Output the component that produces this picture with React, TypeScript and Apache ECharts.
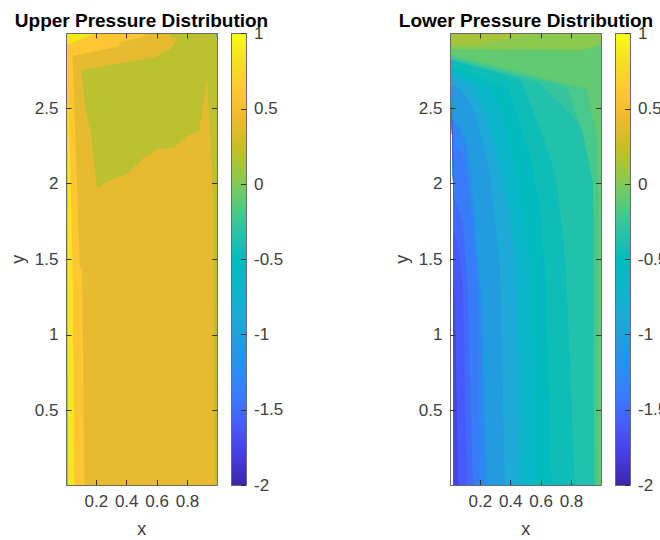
import React, { useEffect, useRef } from "react";
import * as echarts from "echarts";

type Pt = number[];

const xTicks = [0.2, 0.4, 0.6, 0.8];
const yTicks = [0.5, 1, 1.5, 2, 2.5];
const barTicks = [-2, -1.5, -1, -0.5, 0, 0.5, 1];
const xRange = [0.004, 0.994];
const yRange = [0.007, 2.993];

const parulaStops = [
  [62, 38, 168], [70, 60, 222], [71, 88, 251], [60, 120, 250], [44, 140, 240], [35, 155, 225],
  [30, 170, 215], [10, 183, 200], [0, 188, 190], [45, 195, 165], [90, 203, 120], [150, 200, 70],
  [200, 190, 40], [240, 185, 50], [255, 200, 50], [245, 225, 30], [249, 251, 20],
];

// Upper surface bands, painted in order
const upperBase: Pt[] = [[0.004, 0.007], [0.994, 0.007], [0.994, 2.993], [0.004, 2.993]];
const upperGreen: Pt[] = [[0.099, 2.752], [0.597, 2.84], [0.651, 2.878], [0.684, 2.884], [0.737, 2.96], [0.695, 2.964], [0.684, 2.993], [0.994, 2.993], [0.994, 0.007], [0.98, 0.007], [0.97, 1.892], [0.93, 2.686], [0.875, 2.349], [0.794, 2.311], [0.711, 2.238], [0.601, 2.228], [0.509, 2.168], [0.399, 2.062], [0.296, 2.024], [0.206, 1.974], [0.1625, 2.335], [0.13, 2.487]];
const upperOrange: Pt[] = [[0.004, 0.007], [0.122, 0.007], [0.107, 1.429], [0.092, 1.449], [0.044, 2.845], [0.342, 2.906], [0.366, 2.939], [0.487, 2.964], [0.539, 2.993], [0.004, 2.993]];
const upperYellowStrip: Pt[] = [[0.013, 0.007], [0.056, 0.007], [0.044, 1.449], [0.017, 2.63], [0.013, 2.2]];
const upperYellowTop: Pt[] = [[0.004, 2.917], [0.191, 2.988], [0.191, 2.993], [0.004, 2.993]];
const upperEdge: Pt[] = [[0.004, 0.007], [0.011, 0.007], [0.008, 2.2], [0.004, 2.5]];
const upperCorner: Pt[] = [[0.985, 2.993], [0.994, 2.993], [0.994, 2.96]];
const upperBands = [upperBase, upperGreen, upperOrange, upperYellowStrip, upperYellowTop, upperEdge, upperCorner];
const upperLevels = [0.4, 0.2, 0.6, 0.85, 0.85, -0.3, -0.2];

// Lower surface bands, painted in order
const lowerLeftEdge: Pt[] = [[0.023, 0.007], [0.023, 1.892], [0.013, 2.355], [0.004, 2.587]];
const lowerBase: Pt[] = [[0.994, 0.007], [0.994, 2.993], [0.004, 2.993], ...[...lowerLeftEdge].reverse()];
const lowerTop2: Pt[] = [[0.004, 2.891], [0.866, 2.884], [0.994, 2.922], [0.994, 2.993], [0.004, 2.993]];
const lowerTop1: Pt[] = [[0.004, 2.917], [0.151, 2.917], [0.349, 2.95], [0.546, 2.993], [0.004, 2.993]];
const contour1: Pt[] = [[0.004, 2.851], [0.899, 2.626], [0.93, 2.474], [0.969, 2.302], [0.976, 1.958], [0.976, 0.007]];
const contour2: Pt[] = [[0.004, 2.831], [0.768, 2.642], [0.855, 2.388], [0.888, 2.269], [0.941, 2.005], [0.949, 0.007]];
const contour2b: Pt[] = [[0.004, 2.825], [0.592, 2.666], [0.723, 2.534], [0.855, 2.388], [0.888, 2.269], [0.941, 2.005], [0.949, 0.007]];
const contour3: Pt[] = [[0.004, 2.818], [0.4605, 2.686], [0.592, 2.375], [0.658, 2.177], [0.711, 1.958], [0.763, 1.449], [0.822, 0.007]];
const contour4: Pt[] = [[0.004, 2.778], [0.3816, 2.633], [0.447, 2.441], [0.526, 2.177], [0.592, 1.846], [0.625, 1.449], [0.669, 0.007]];
const contour5: Pt[] = [[0.004, 2.745], [0.263, 2.64], [0.349, 2.441], [0.4276, 2.11], [0.48, 1.78], [0.533, 1.449], [0.564, 0.007]];
const contour6: Pt[] = [[0.0066, 2.712], [0.1316, 2.666], [0.2414, 2.441], [0.329, 2.11], [0.395, 1.78], [0.439, 1.449], [0.4605, 0.007]];
const contour7: Pt[] = [[0.0066, 2.653], [0.0724, 2.633], [0.1645, 2.468], [0.217, 2.269], [0.263, 2.058], [0.296, 1.76], [0.329, 1.449], [0.362, 0.007]];
const contour8: Pt[] = [[0.013, 2.4], [0.0526, 2.401], [0.105, 2.269], [0.138, 2.058], [0.171, 1.648], [0.204, 1.297], [0.2414, 0.007], [0.023, 0.007], [0.023, 1.892], [0.013, 2.355]];
const contour9: Pt[] = [[0.018, 2.2], [0.0526, 2.256], [0.0987, 2.137], [0.118, 2.024], [0.151, 1.648], [0.184, 1.297], [0.197, 0.007], [0.023, 0.007], [0.023, 1.892]];
const contour10: Pt[] = [[0.023, 1.905], [0.033, 1.905], [0.0855, 1.74], [0.118, 1.297], [0.151, 0.007], [0.023, 0.007]];
const contour11: Pt[] = [[0.023, 1.674], [0.033, 1.674], [0.066, 1.515], [0.0855, 1.297], [0.114, 0.007], [0.023, 0.007]];
const contour12: Pt[] = [[0.023, 1.363], [0.033, 1.231], [0.0546, 0.007], [0.023, 0.007]];
const lowerWedge: Pt[] = [[0.004, 2.587], [0.013, 2.355], [0.023, 1.892], [0.028, 1.892], [0.02, 2.4]];
const lowerBands = [
  lowerBase, lowerTop2, lowerTop1,
  [...contour1, ...lowerLeftEdge], [...contour2, ...lowerLeftEdge], [...contour2b, ...lowerLeftEdge],
  [...contour3, ...lowerLeftEdge], [...contour4, ...lowerLeftEdge], [...contour5, ...lowerLeftEdge],
  [...contour6, ...lowerLeftEdge], [...contour7, ...lowerLeftEdge],
  contour8, contour9, contour10, contour11, contour12, lowerWedge,
];
const lowerLevels = [-0.1, 0.03, 0.13, -0.2, -0.28, -0.36, -0.45, -0.52, -0.68, -0.87, -1.06, -1.28, -1.4, -1.52, -1.62, -1.75, -1.65];

const titles = ["Upper Pressure Distribution", "Lower Pressure Distribution"];
const titleCentres = [136.5, 521];

function levelColor(level: number) {
  const t = (Math.min(1, Math.max(-2, level)) + 2) / 3;
  const p = t * (parulaStops.length - 1);
  const i = Math.min(parulaStops.length - 2, Math.floor(p));
  const f = p - i;
  const c = parulaStops[i].map((v, k) => Math.round(v + (parulaStops[i + 1][k] - v) * f));
  return `rgb(${c[0]},${c[1]},${c[2]})`;
}

const FONT = "Liberation Sans";
const AXIS_GREY = "#6b6b6b";
const TEXT_GREY = "#404040";

function frameAxis(base: any, tickVals: number[] | null, showLabel: boolean) {
  return {
    ...base,
    z: 5,
    splitLine: { show: false },
    axisLine: { show: true, onZero: false, lineStyle: { color: AXIS_GREY, width: 1 } },
    axisTick: tickVals
      ? { show: true, inside: true, length: 5, lineStyle: { color: "#333" }, customValues: tickVals }
      : { show: false },
    axisLabel: showLabel && tickVals
      ? { show: true, customValues: tickVals, fontFamily: FONT, fontSize: 17, color: TEXT_GREY, margin: 8 }
      : { show: false },
  };
}

const panelLefts = [66.5, 450.5];
const barLefts = [231.5, 615.5];
const PANEL_W = 150.5;
const BAR_W = 14.5;
const TOP = 33.5;
const H = 451.5;

function App() {
  const ref = useRef<HTMLDivElement>(null);
  useEffect(() => {
    const chart = echarts.init(ref.current!, undefined, { renderer: "svg" });

    const grids: any[] = [];
    const xAxes: any[] = [];
    const yAxes: any[] = [];
    const series: any[] = [];

    [upperBands, lowerBands].forEach((bands, p) => {
      const levels = p === 0 ? upperLevels : lowerLevels;
      const gi = grids.length;
      grids.push({ left: panelLefts[p], top: TOP, width: PANEL_W, height: H, outerBoundsMode: "none" });
      const xBase = { type: "value", gridIndex: gi, min: xRange[0], max: xRange[1] };
      const yBase = { type: "value", gridIndex: gi, min: yRange[0], max: yRange[1] };
      const xi = xAxes.length;
      xAxes.push({
        ...frameAxis({ ...xBase, position: "bottom" }, xTicks, true),
        name: "x", nameLocation: "middle", nameGap: 35,
        nameTextStyle: { fontFamily: FONT, fontSize: 18, color: TEXT_GREY },
      });
      xAxes.push(frameAxis({ ...xBase, position: "top" }, xTicks, false));
      const yi = yAxes.length;
      yAxes.push({
        ...frameAxis({ ...yBase, position: "left" }, yTicks, true),
        name: "y", nameLocation: "middle", nameGap: 40, nameRotate: 90,
        nameTextStyle: { fontFamily: FONT, fontSize: 18, color: TEXT_GREY },
      });
      yAxes.push(frameAxis({ ...yBase, position: "right" }, yTicks, false));
      series.push({
        type: "custom",
        xAxisIndex: xi,
        yAxisIndex: yi,
        clip: true,
        silent: true,
        data: bands.map((_, i) => [i, 0]),
        encode: { x: 1, y: 1 },
        renderItem: (params: any, api: any) => ({
          type: "polygon",
          shape: { points: bands[params.dataIndex].map((pt) => api.coord(pt)) },
          style: { fill: levelColor(levels[params.dataIndex]) },
        }),
      });

      // colour bar
      const bi = grids.length;
      grids.push({ left: barLefts[p], top: TOP, width: BAR_W, height: H, outerBoundsMode: "none" });
      const bx = xAxes.length;
      xAxes.push(frameAxis({ type: "value", gridIndex: bi, min: 0, max: 1, position: "bottom" }, null, false));
      xAxes.push(frameAxis({ type: "value", gridIndex: bi, min: 0, max: 1, position: "top" }, null, false));
      const by = yAxes.length;
      yAxes.push(frameAxis({ type: "value", gridIndex: bi, min: -2, max: 1, position: "right" }, barTicks, true));
      yAxes.push(frameAxis({ type: "value", gridIndex: bi, min: -2, max: 1, position: "left" }, null, false));
      series.push({
        type: "custom",
        xAxisIndex: bx,
        yAxisIndex: by,
        silent: true,
        data: [[0, -2]],
        renderItem: (_: any, api: any) => {
          const a = api.coord([0, -2]);
          const b = api.coord([1, 1]);
          return {
            type: "rect",
            shape: { x: a[0], y: b[1], width: b[0] - a[0], height: a[1] - b[1] },
            style: {
              fill: {
                type: "linear", x: 0, y: 1, x2: 0, y2: 0,
                colorStops: parulaStops.map((_c, i) => {
                  const o = i / (parulaStops.length - 1);
                  return { offset: o, color: levelColor(-2 + 3 * o) };
                }),
              },
            },
          };
        },
      });
    });

    chart.setOption({
      animation: false,
      backgroundColor: "#ffffff",
      title: titles.map((text, p) => ({
        text,
        left: titleCentres[p],
        textAlign: "center",
        top: 6,
        textStyle: { fontFamily: FONT, fontSize: 19, fontWeight: "bold", color: "#000" },
      })),
      grid: grids,
      xAxis: xAxes,
      yAxis: yAxes,
      series,
    });
    return () => chart.dispose();
  }, []);
  return <div ref={ref} style={{ position: "absolute", left: 0, top: 0, width: 660, height: 540 }} />;
}

export default App;
